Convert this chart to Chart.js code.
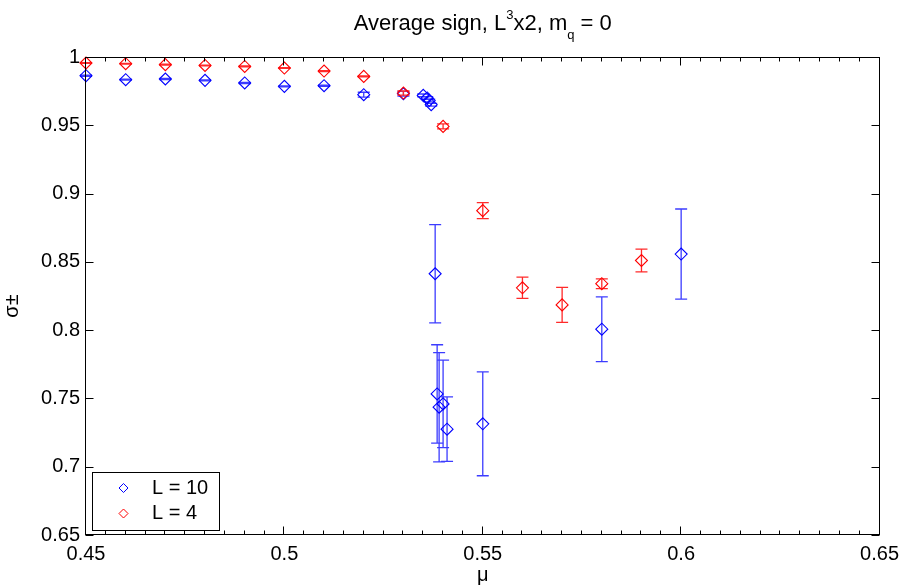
<!DOCTYPE html>
<html>
<head>
<meta charset="utf-8">
<script src="https://cdn.jsdelivr.net/npm/chart.js@4"></script>
<style>
  body { margin: 0; background: #fff; }
</style>
</head>
<body>
<canvas id="sign-chart" width="906" height="587"></canvas>
<script>
// L = 10 lattice
var muL10 = [0.45, 0.46, 0.47, 0.48, 0.49, 0.50, 0.51, 0.52, 0.53, 0.535, 0.536, 0.5365, 0.537,
             0.538, 0.5385, 0.539, 0.54, 0.541, 0.55, 0.58, 0.60];
var sigmaL10 = [0.9863, 0.9834, 0.9839, 0.9829, 0.9810, 0.9785, 0.9790, 0.9724, 0.9731, 0.9719, 0.9700, 0.9682, 0.9651,
                0.8413, 0.7533, 0.7436, 0.7460, 0.7275, 0.7314, 0.8007, 0.8557];
var errL10 = [0.0004, 0.0004, 0.0004, 0.0004, 0.0004, 0.0004, 0.0004, 0.0018, 0.0018, 0.0010, 0.0010, 0.0010, 0.0010,
              0.0360, 0.0360, 0.0400, 0.0320, 0.0236, 0.0380, 0.0237, 0.0330];

// L = 4 lattice
var muL4 = [0.45, 0.46, 0.47, 0.48, 0.49, 0.50, 0.51, 0.52, 0.53, 0.54, 0.55, 0.56, 0.57, 0.58, 0.59];
var sigmaL4 = [0.9956, 0.9951, 0.9944, 0.9938, 0.9931, 0.9919, 0.9897, 0.9858, 0.9736, 0.9492,
               0.8875, 0.8310, 0.8185, 0.8340, 0.8510];
var errL4 = [0.0003, 0.0003, 0.0003, 0.0003, 0.0003, 0.0003, 0.0003, 0.0003, 0.0015, 0.0018,
             0.0058, 0.0078, 0.0128, 0.0036, 0.0083];

var labels = ['L = 10', 'L = 4'];
var xTicks = [0.45, 0.5, 0.55, 0.6, 0.65];
var yTicks = [0.65, 0.7, 0.75, 0.8, 0.85, 0.9, 0.95, 1];

var FONT = '"Liberation Sans", Arial, Helvetica, sans-serif';

function toPoints(xs, ys) {
    var pts = [];
    for (let i = 0; i < xs.length; i++) {
        pts.push({ x: xs[i], y: ys[i] });
    }
    return pts;
};

function diamond(ctx, x, y, r) {
    ctx.beginPath();
    ctx.moveTo(x, y - r);
    ctx.lineTo(x + r, y);
    ctx.lineTo(x, y + r);
    ctx.lineTo(x - r, y);
    ctx.closePath();
    ctx.stroke();
};

// error bars drawn under each dataset's markers
var errorBars = {
    id: 'errorBars',
    beforeDatasetDraw(chart, args) {
        const ds = chart.data.datasets[args.index];
        const xs = chart.scales.x, ys = chart.scales.y;
        const ctx = chart.ctx;
        ctx.save();
        ctx.strokeStyle = ds.barColor;
        ctx.lineWidth = 1.3;
        ds.data.forEach(function (p, i) {
            const e = ds.errors[i];
            const x = xs.getPixelForValue(p.x);
            const t = ys.getPixelForValue(p.y + e);
            const b = ys.getPixelForValue(p.y - e);
            ctx.beginPath();
            ctx.moveTo(x, t); ctx.lineTo(x, b);
            ctx.moveTo(x - 6, t); ctx.lineTo(x + 6, t);
            ctx.moveTo(x - 6, b); ctx.lineTo(x + 6, b);
            ctx.stroke();
        });
        ctx.restore();
    }
};

// matlab style frame, inward ticks, titles and legend box
var matlabFrame = {
    id: 'matlabFrame',
    afterDraw(chart) {
        const ctx = chart.ctx;
        const a = chart.chartArea;
        const xs = chart.scales.x, ys = chart.scales.y;
        const L = Math.round(a.left) - 0.5, R = Math.round(a.right) - 0.5;
        const T = Math.round(a.top) + 0.5, B = Math.round(a.bottom) - 0.5;
        ctx.save();
        ctx.strokeStyle = '#000';
        ctx.lineWidth = 1;
        ctx.strokeRect(L, T, R - L, B - T);

        ctx.beginPath();
        for (let k = 0; k <= 40; k++) {
            const v = 0.45 + k * 0.005;
            const x = Math.round(xs.getPixelForValue(v)) - 0.5;
            const len = (k % 10 === 0) ? 8 : 4;
            ctx.moveTo(x, B); ctx.lineTo(x, B - len);
            ctx.moveTo(x, T); ctx.lineTo(x, T + len);
        }
        yTicks.forEach(function (v) {
            const y = Math.round(ys.getPixelForValue(v)) + 0.5;
            ctx.moveTo(L, y); ctx.lineTo(L + 8, y);
            ctx.moveTo(R, y); ctx.lineTo(R - 8, y);
        });
        ctx.stroke();

        // title with super/subscripts
        ctx.fillStyle = '#000';
        ctx.textBaseline = 'alphabetic';
        const parts = [
            ['Average sign, L', 22, 30],
            ['3', 13, 19],
            ['x2, m', 22, 30],
            ['q', 13, 38.5],
            [' = 0', 22, 30]
        ];
        let total = 0;
        parts.forEach(function (p) {
            ctx.font = p[1] + 'px ' + FONT;
            total += ctx.measureText(p[0]).width;
        });
        let cx = (a.left + a.right) / 2 - total / 2;
        ctx.textAlign = 'left';
        parts.forEach(function (p) {
            ctx.font = p[1] + 'px ' + FONT;
            ctx.fillText(p[0], cx, p[2]);
            cx += ctx.measureText(p[0]).width;
        });

        // axis labels
        ctx.font = '20px ' + FONT;
        ctx.textAlign = 'center';
        ctx.fillText('\u03bc', (a.left + a.right) / 2, 581);
        ctx.save();
        ctx.translate(18, 306);
        ctx.rotate(-Math.PI / 2);
        ctx.fillText('\u03c3\u00b1', 0, 0);
        ctx.restore();

        // legend
        ctx.fillStyle = '#fff';
        ctx.fillRect(92, 472, 127, 58);
        ctx.strokeRect(92.5, 472.5, 127, 58);
        ctx.textAlign = 'left';
        ctx.textBaseline = 'middle';
        chart.data.datasets.forEach(function (ds, i) {
            const y = 488 + i * 25.5;
            ctx.strokeStyle = ds.borderColor;
            diamond(ctx, 123.5, y, 4.5);
            ctx.fillStyle = '#000';
            ctx.font = '20px ' + FONT;
            ctx.fillText(ds.label, 152, y);
        });
        ctx.restore();
    }
};

function fmt(v) {
    return String(parseFloat(v.toFixed(2)));
};

function signChart(id) {
    const ctx = document.getElementById(id);

    return new Chart(ctx, {
        type: 'scatter',
        data: {
            datasets: [{
                label: labels[0],
                data: toPoints(muL10, sigmaL10),
                errors: errL10,
                borderColor: '#0000ff',
                barColor: '#3c3cff',
                order: 1
            }, {
                label: labels[1],
                data: toPoints(muL4, sigmaL4),
                errors: errL4,
                borderColor: '#ff0000',
                barColor: '#ff2a2a',
                order: 0
            }]
        },
        options: {
            responsive: false,
            animation: false,
            layout: { padding: { top: 57, right: 24, left: 0, bottom: 0 } },
            elements: {
                point: {
                    pointStyle: 'rectRot',
                    radius: 6,
                    borderWidth: 1.1,
                    backgroundColor: 'rgba(0,0,0,0)'
                }
            },
            datasets: { scatter: { clip: false } },
            scales: {
                x: {
                    type: 'linear',
                    min: 0.45,
                    max: 0.65,
                    afterFit: function (s) { s.height = 52; },
                    afterBuildTicks: function (s) { s.ticks = xTicks.map(function (v) { return { value: v }; }); },
                    grid: { display: false, drawTicks: false },
                    border: { display: false },
                    ticks: {
                        padding: 7,
                        maxRotation: 0,
                        autoSkip: false,
                        color: '#000',
                        font: { family: FONT, size: 20 },
                        callback: fmt
                    }
                },
                y: {
                    type: 'linear',
                    min: 0.65,
                    max: 1,
                    afterFit: function (s) { s.width = 86; },
                    afterBuildTicks: function (s) { s.ticks = yTicks.map(function (v) { return { value: v }; }); },
                    grid: { display: false, drawTicks: false },
                    border: { display: false },
                    ticks: {
                        padding: 6,
                        autoSkip: false,
                        color: '#000',
                        font: { family: FONT, size: 20 },
                        callback: fmt
                    }
                }
            },
            plugins: {
                legend: { display: false },
                title: { display: false },
                tooltip: { enabled: false }
            }
        },
        plugins: [errorBars, matlabFrame]
    });
};

signChart('sign-chart');
</script>
</body>
</html>
